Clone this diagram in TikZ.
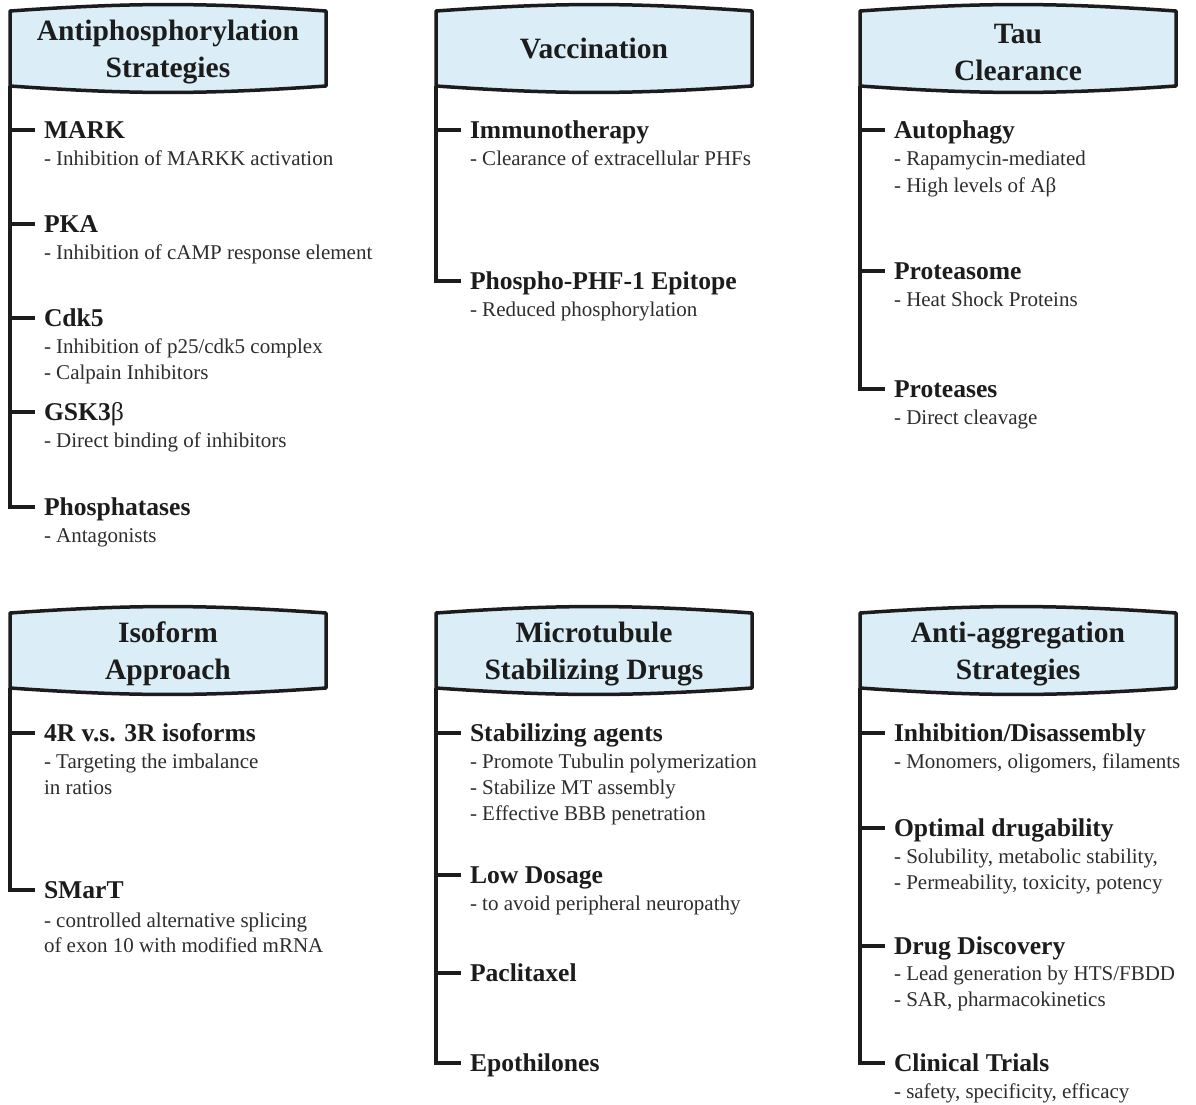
\documentclass[tikz,border=0pt]{standalone}
\usepackage{fontspec}
\setmainfont{Liberation Serif}
\usetikzlibrary{backgrounds}
\definecolor{hdrblue}{RGB}{219,237,246}
\definecolor{ink}{RGB}{28,28,28}
\definecolor{txt}{RGB}{45,45,45}
\newcommand\drawhdr[1]{\path[hdrframe] (#1.north west) -- (#1.south west) to[bend right=4] (#1.south east) -- (#1.north east) to[bend right=4] (#1.north west) -- cycle;}
\newcommand\tstrut{\rule{0pt}{27pt}}
\begin{document}
\begin{tikzpicture}[x=1pt,y=-1pt,
  hdrnode/.style={minimum width=316pt,minimum height=75pt,inner sep=0pt,outer sep=0pt,align=center,text=ink,font=\fontsize{29.5}{37}\selectfont\bfseries},
  hdrframe/.style={draw=ink,line width=3.5pt,fill=hdrblue,line join=round},
  tree/.style={draw=ink,line width=3.5pt},
  itemhead/.style={anchor=west,inner sep=0pt,outer sep=0pt,text height=17.5pt,text depth=0pt,text=ink,font=\fontsize{25.6}{30}\selectfont\bfseries},
  itembody/.style={anchor=base west,inner sep=0pt,outer sep=0pt,text=txt,font=\fontsize{21}{26}\selectfont}]
\useasboundingbox (0,0) rectangle (1196,1105);

% header nodes
\node[hdrnode] (h1) at (168,48.5) {\tstrut Antiphosphorylation\\Strategies};
\node[hdrnode] (h2) at (594,48.5) {Vaccination};
\node[hdrnode] (h3) at (1018,48.5) {\tstrut Tau\\Clearance};
\node[hdrnode] (h4) at (168,650.5) {\tstrut Isoform\\Approach};
\node[hdrnode] (h5) at (594,650.5) {\tstrut Microtubule\\Stabilizing Drugs};
\node[hdrnode] (h6) at (1018,650.5) {\tstrut Anti-aggregation\\Strategies};

\begin{scope}[on background layer]
\fill[white] (0,0) rectangle (1196,1105);
\drawhdr{h1}\drawhdr{h2}\drawhdr{h3}\drawhdr{h4}\drawhdr{h5}\drawhdr{h6}
\end{scope}

% column 1, row 1
\node[itemhead] (mark) at (44,130) {MARK};
\node[itembody] (mark1) at (44,165) {- Inhibition of MARKK activation};
\node[itemhead] (pka) at (44,224) {PKA};
\node[itembody] (pka1) at (44,259) {- Inhibition of cAMP response element};
\node[itemhead] (cdk) at (44,318) {Cdk5};
\node[itembody] (cdk1) at (44,353) {- Inhibition of p25/cdk5 complex};
\node[itembody] (cdk2) at (44,379) {- Calpain Inhibitors};
\node[itemhead] (gsk) at (44,412) {GSK3\textmd{β}};
\node[itembody] (gsk1) at (44,447) {- Direct binding of inhibitors};
\node[itemhead] (phos) at (44,507) {Phosphatases};
\node[itembody] (phos1) at (44,542) {- Antagonists};

% column 2, row 1
\node[itemhead] (immu) at (470,130) {Immunotherapy};
\node[itembody] (immu1) at (470,165) {- Clearance of extracellular PHFs};
\node[itemhead] (phf) at (470,281) {Phospho-PHF-1 Epitope};
\node[itembody] (phf1) at (470,316) {- Reduced phosphorylation};

% column 3, row 1
\node[itemhead] (auto) at (894,130) {Autophagy};
\node[itembody] (auto1) at (894,165) {- Rapamycin-mediated};
\node[itembody] (auto2) at (894,192) {- High levels of Aβ};
\node[itemhead] (prot) at (894,271) {Proteasome};
\node[itembody] (prot1) at (894,306) {- Heat Shock Proteins};
\node[itemhead] (ptase) at (894,389) {Proteases};
\node[itembody] (ptase1) at (894,424) {- Direct cleavage};

% column 1, row 2
\node[itemhead] (iso) at (44,733) {4R v.s. 3R isoforms};
\node[itembody] (iso1) at (44,768) {- Targeting the imbalance};
\node[itembody] (iso2) at (44,794) {in ratios};
\node[itemhead] (smart) at (44,890) {SMarT};
\node[itembody] (smart1) at (44,927) {- controlled alternative splicing};
\node[itembody] (smart2) at (44,952) {of exon 10 with modified mRNA};

% column 2, row 2
\node[itemhead] (stab) at (470,733) {Stabilizing agents};
\node[itembody] (stab1) at (470,768) {- Promote Tubulin polymerization};
\node[itembody] (stab2) at (470,794) {- Stabilize MT assembly};
\node[itembody] (stab3) at (470,820) {- Effective BBB penetration};
\node[itemhead] (lowd) at (470,875) {Low Dosage};
\node[itembody] (lowd1) at (470,910) {- to avoid peripheral neuropathy};
\node[itemhead] (pacl) at (470,973) {Paclitaxel};
\node[itemhead] (epot) at (470,1063) {Epothilones};

% column 3, row 2
\node[itemhead] (inhib) at (894,733) {Inhibition/Disassembly};
\node[itembody] (inhib1) at (894,768) {- Monomers, oligomers, filaments};
\node[itemhead] (optim) at (894,828) {Optimal drugability};
\node[itembody] (optim1) at (894,863) {- Solubility, metabolic stability,};
\node[itembody] (optim2) at (894,889) {- Permeability, toxicity, potency};
\node[itemhead] (drug) at (894,946) {Drug Discovery};
\node[itembody] (drug1) at (894,980) {- Lead generation by HTS/FBDD};
\node[itembody] (drug2) at (894,1006) {- SAR, pharmacokinetics};
\node[itemhead] (clin) at (894,1063) {Clinical Trials};
\node[itembody] (clin1) at (894,1098) {- safety, specificity, efficacy};

% tree connectors
\foreach \h/\i in {h1/mark,h1/pka,h1/cdk,h1/gsk,h1/phos,
                   h2/immu,h2/phf,
                   h3/auto,h3/prot,h3/ptase,
                   h4/iso,h4/smart,
                   h5/stab,h5/lowd,h5/pacl,h5/epot,
                   h6/inhib,h6/optim,h6/drug,h6/clin}
  \draw[tree] (\h.south west) |- ([xshift=-9pt]\i.west);
\end{tikzpicture}
\end{document}
